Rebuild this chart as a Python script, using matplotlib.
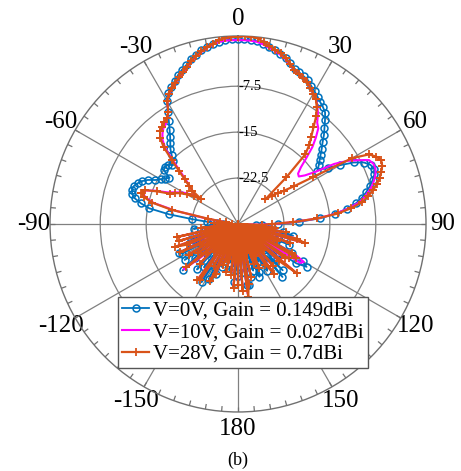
import numpy as np
import matplotlib
matplotlib.use('Agg')
import matplotlib.pyplot as plt

plt.rcParams['font.family'] = ['Liberation Serif', 'DejaVu Serif']
plt.rcParams['axes.unicode_minus'] = False

# angles (deg) from -180 to 178, step 2
angles_deg = np.arange(-180, 180, 2)

gain_0v = [
    # -180 .. -92
    -21.5, -24, -20.5, -26, -22.5, -27, -23.5, -25, -24.5, -28,
    -22.5, -26, -21, -24, -19.8, -25, -18.8, -22, -26, -21,
    -28, -20, -25, -23, -24.5, -18.2, -21, -26, -19.5, -23,
    -27, -19.7, -19.2, -24, -21.5, -26, -22, -28, -23.5, -26.5,
    -24.5, -28, -22.7, -27, -25.5,
    # -90 .. 90
    -27.5, -26.5, -25, -22.5, -18.6, -15.3, -13.8, -12.6, -12.0, -11.8,
    -11.9, -12.3, -12.8, -13.6, -14.7, -15.4, -16.0, -16.5, -15.0, -14.8,
    -15.0, -15.6, -15.3, -14.4, -13.5, -12.8, -12.0, -11.0, -9.8, -8.4,
    -6.8, -5.8, -5.1, -4.5, -3.8, -3.2, -2.7, -2.0, -1.5, -1.0,
    -0.6, -0.3, -0.1, 0.05, 0.15, 0.15, 0.15, 0.1, 0.0, -0.3,
    -0.7, -1.0, -1.4, -1.8, -2.4, -3.0, -3.3, -3.6, -3.9, -4.5,
    -5.0, -5.5, -6.0, -6.4, -6.9, -7.9, -8.9, -9.8, -10.8, -11.6,
    -12.4, -13.1, -13.7, -14.4, -12.6, -10.8, -8.6, -7.1, -6.3, -6.0,
    -6.3, -6.9, -7.6, -8.4, -9.3, -10.4, -12.0, -14.0, -16.5, -20.0,
    -23.5,
    # 92 .. 178
    -26, -27, -25.5, -24.7, -22.5, -20.8, -25, -22, -27.5, -23,
    -21, -26, -24, -20, -17.8, -16.8, -18.5, -24, -22, -27,
    -21.5, -25, -19.5, -23, -18.7, -26, -22, -28, -21, -24.5,
    -23, -27, -21.5, -20.7, -25, -22, -28, -21, -24, -19.9,
    -20, -26, -22, -25,
]

gain_10v = [
    # -180 .. -92
    -21, -30, -20, -30, -22, -26, -30, -23, -30, -24.5,
    -23, -30, -21.5, -20, -30, -22.5, -30, -19.5, -19, -30,
    -24.5, -30, -21.5, -30, -22, -18.5, -30, -22.5, -30, -21,
    -30, -23.5, -19.8, -30, -21.5, -19.5, -30, -20.5, -30, -20.2,
    -26.5, -30, -24.5, -30, -27.5,
    # -90 .. 90
    -27.5, -26.5, -28.5, -27, -27.5, -24.5, -19.5, -15.8, -14.3, -13.7,
    -14.0, -15.5, -17.3, -18.2, -19.0, -19.8, -20.8, -21.8, -20.8, -20.0,
    -19.0, -17.5, -15.5, -13.0, -11.6, -10.8, -10.2, -9.9, -9.3, -8.5,
    -6.9, -6.0, -5.4, -4.9, -4.3, -3.7, -3.1, -2.4, -1.8, -1.3,
    -0.8, -0.4, -0.1, 0.0, 0.03, 0.03, 0.03, 0.0, -0.1, -0.4,
    -0.8, -1.1, -1.5, -2.0, -2.6, -3.2, -3.6, -3.9, -4.2, -4.8,
    -5.4, -6.0, -6.8, -7.8, -9.0, -9.6, -11.0, -12.5, -14.5, -16.2,
    -17.2, -17.4, -16.5, -14.8, -11.5, -9.4, -7.8, -6.2, -5.8, -5.8,
    -6.1, -6.6, -7.2, -8.0, -8.9, -10.0, -11.8, -14.0, -17.0, -21.0,
    -24.0,
    # 92 .. 178
    -26.5, -30, -24.5, -30, -22.5, -30, -20.5, -19.2, -30, -21.5,
    -30, -23.5, -30, -19.5, -17.6, -18, -30, -21, -30, -18,
    -21.5, -30, -24.5, -30, -21.5, -30, -20.2, -22.5, -30, -24.5,
    -30, -22.5, -30, -23.5, -30, -25.5, -30, -21.5, -30, -20.5,
    -18.5, -30, -19.5, -30,
]

gain_28v = [
    # -180 .. -92
    -20, -30, -19.5, -30, -21.6, -25, -30, -22, -30, -24,
    -22.9, -30, -21, -19.6, -30, -22, -30, -19, -18.7, -30,
    -24, -30, -21, -30, -23, -19, -30, -22, -30, -20.5,
    -30, -23, -19.5, -30, -21, -19.1, -30, -20, -30, -19.8,
    -26, -30, -24, -30, -27,
    # -90 .. 90
    -28, -26, -29, -27, -28, -25.0, -19.0, -15.5, -14.0, -13.4,
    -13.8, -15.8, -17.8, -18.5, -19.3, -20.3, -21.5, -22.8, -20.8, -19.8,
    -18.6, -17.0, -15.0, -12.5, -11.0, -10.2, -9.8, -9.5, -9.2, -8.5,
    -6.9, -5.9, -5.3, -4.8, -4.2, -3.6, -3.0, -2.3, -1.7, -1.2,
    -0.7, -0.3, 0.2, 0.4, 0.55, 0.6, 0.7, 0.65, 0.5, 0.0,
    -0.5, -0.9, -1.3, -1.8, -2.5, -3.2, -3.6, -3.9, -4.2, -4.8,
    -5.4, -6.0, -7.0, -8.3, -10.0, -11.4, -12.6, -14.2, -19.0, -24.0,
    -22.8, -21.8, -20.8, -19.0, -15.5, -8.5, -5.8, -4.9, -4.4, -4.6,
    -5.1, -5.7, -6.4, -7.3, -8.3, -9.4, -11.3, -13.6, -17.0, -21.0,
    -24.5,
    # 92 .. 178
    -26, -30, -24, -30, -22, -30, -20, -18.7, -30, -21,
    -30, -23, -30, -20, -19, -30, -20, -20.5, -30, -17.5,
    -21, -30, -24, -30, -21, -30, -19.9, -22, -30, -24,
    -30, -22, -30, -23, -30, -25, -30, -21, -30, -20,
    -18, -30, -19, -30,
]

series_labels = ['V=0V, Gain = 0.149dBi', 'V=10V, Gain = 0.027dBi', 'V=28V, Gain = 0.7dBi']
theta_ticks = [0, 30, 60, 90, 120, 150, 180, 210, 240, 270, 300, 330]
theta_labels = ['0', '30', '60', '90', '120', '150', '180', '-150', '-120', '-90', '-60', '-30']
minor_step = 5
r_ticks = [-22.5, -15, -7.5]
r_labels = ['-22.5', '-15', '-7.5']
r_min, r_max = -30, 0.7

fig = plt.figure(figsize=(4.61, 4.71), dpi=100)
ax = fig.add_axes([0.1085, 0.1253, 0.8156, 0.7983], projection='polar')
ax.set_theta_zero_location('N')
ax.set_theta_direction(-1)


def closed(vals):
    th = np.deg2rad(np.append(angles_deg, angles_deg[0] + 360))
    r = np.append(np.asarray(vals, float), vals[0])
    return th, r


th, r = closed(gain_0v)
ax.plot(th, r, color='#0072BD', lw=1.3, marker='o', ms=5, mfc='none', mew=1.1,
        label=series_labels[0], zorder=3)
th, r = closed(gain_10v)
ax.plot(th, r, color='#FF00FF', lw=1.5, label=series_labels[1], zorder=4)
th, r = closed(gain_28v)
ax.plot(th, r, color='#D95319', lw=1.6, marker='+', ms=6, mew=1.3,
        label=series_labels[2], zorder=5)

ax.set_rlim(r_min, r_max)
ax.set_thetagrids(theta_ticks, theta_labels)
ax.set_rgrids(r_ticks, labels=['', '', ''])
ax.grid(True, color='#808080', lw=0.9)
ax.spines['polar'].set_color('#707070')
ax.spines['polar'].set_linewidth(1.0)
ax.tick_params(axis='x', which='major', pad=5, labelsize=18, length=0)

# inward minor ticks on the outer circle every 5 degrees
minor_angles = np.deg2rad(np.arange(0, 360, minor_step))
ax.vlines(minor_angles, r_max - 0.85, r_max, color='#707070', lw=0.9, zorder=2)
ax.set_rlim(r_min, r_max)

for val, lab in zip(r_ticks, r_labels):
    ax.text(0, val, lab, fontsize=10.5, ha='left', va='center', zorder=6)

leg = ax.legend(loc='lower left', bbox_to_anchor=(118 / 461, 103 / 471),
                bbox_transform=fig.transFigure, borderaxespad=0, fontsize=15,
                frameon=True, fancybox=False, edgecolor='#555555', framealpha=1,
                handlelength=1.3, handletextpad=0.2, labelspacing=0.1,
                borderpad=0.2, numpoints=1)
leg.get_frame().set_linewidth(1.0)

fig.text(238 / 461, 0.023, '(b)', ha='center', va='center', fontsize=13)

fig.savefig('out.png', dpi=100)
